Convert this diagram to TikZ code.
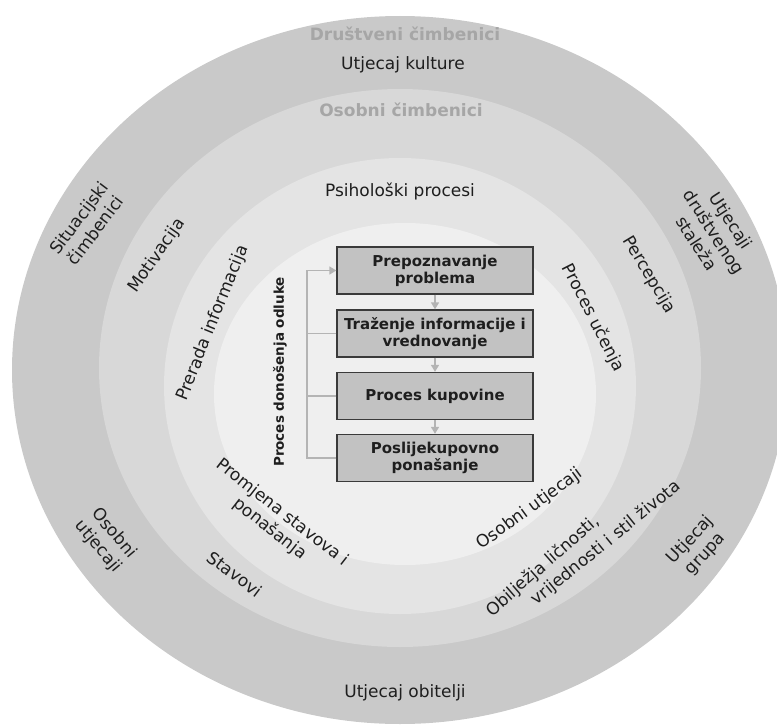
\documentclass[tikz,border=0pt]{standalone}
\usepackage{fontspec}
\setmainfont{DejaVu Sans}
\usetikzlibrary{arrows.meta}
\definecolor{ringA}{HTML}{C9C9C9}
\definecolor{ringB}{HTML}{D8D8D8}
\definecolor{ringC}{HTML}{E4E4E4}
\definecolor{ringD}{HTML}{EFEFEF}
\definecolor{boxfill}{HTML}{C2C2C2}
\definecolor{boxline}{HTML}{3A3A3A}
\definecolor{titlecol}{HTML}{A6A6A6}
\definecolor{labelcol}{HTML}{1E1E1E}
\definecolor{arrowcol}{HTML}{B4B4B4}
\begin{document}
\begin{tikzpicture}[x=1pt,y=-1pt,
  lbl/.style={font=\fontsize{17}{20.5}\selectfont, text=labelcol, align=center, inner sep=0pt},
  ttl/.style={font=\fontsize{17}{19}\selectfont\bfseries, text=titlecol, inner sep=0pt},
  stepbox/.style={draw=boxline, line width=1.3pt, fill=boxfill, minimum width=196pt, minimum height=47pt,
    align=center, inner sep=0pt, font=\fontsize{15}{17}\selectfont\bfseries, text=labelcol},
  garrow/.style={draw=arrowcol, line width=1.4pt, -{Triangle[length=7pt,width=8pt]}},
  gline/.style={draw=arrowcol, line width=1.4pt}]
\useasboundingbox (0,0) rectangle (777,725);
\begin{scope}
\clip (0,0) rectangle (777,725);
\fill[ringA] (400,370) ellipse [x radius=388, y radius=354];
\fill[ringB] (400,368) ellipse [x radius=301, y radius=279];
\fill[ringC] (400,386) ellipse [x radius=236, y radius=228];
\fill[ringD] (405,394) ellipse [x radius=191, y radius=171];
\end{scope}

% titles and ring labels
\node[ttl] (dc) at (405,34) {Društveni čimbenici};
\node[lbl] (uk) at (403,65) {Utjecaj kulture};
\node[ttl] (oc) at (401,110) {Osobni čimbenici};
\node[lbl] (pp) at (400,191) {Psihološki procesi};
\node[lbl, rotate=53] (sc) at (87,224) {Situacijski\\čimbenici};
\node[lbl, rotate=55] (mo) at (157,256) {Motivacija};
\node[lbl, rotate=68] (pi) at (213,323) {Prerada informacija};
\node[lbl, rotate=-63] (pu) at (593,318) {Proces učenja};
\node[lbl, rotate=-59] (pe) at (649,275) {Percepcija};
\node[lbl, rotate=-57] (ud) at (714,232) {Utjecaji\\društvenog\\staleža};
\node[lbl, rotate=-50] (ou) at (106,540) {Osobni\\utjecaji};
\node[lbl, rotate=-37] (st) at (235,574) {Stavovi};
\node[lbl, rotate=-38] (ps) at (276,521) {Promjena stavova i\\ponašanja};
\node[lbl, rotate=36] (ou2) at (530,509) {Osobni utjecaji};
\node[lbl, rotate=41] (ol1) at (543,566) {Obilježja ličnosti,};
\node[lbl, rotate=39] (ol2) at (606,543) {vrijednosti i stil života};
\node[lbl, rotate=47] (ug) at (698,547) {Utjecaj\\grupa};
\node[lbl] (uo) at (405,693) {Utjecaj obitelji};

% decision process
\node[stepbox] (b1) at (435,270.5) {Prepoznavanje\\problema};
\node[stepbox] (b2) at (435,333.5) {Traženje informacije i\\vrednovanje};
\node[stepbox] (b3) at (435,396) {Proces kupovine};
\node[stepbox] (b4) at (435,458) {Poslijekupovno\\ponašanje};
\node[font=\fontsize{13.5}{15}\selectfont\bfseries, text=labelcol, rotate=90, inner sep=0pt] (pdo) at (280,372) {Proces donošenja odluke};

\draw[garrow] (b1.south) -- (b2.north);
\draw[garrow] (b2.south) -- (b3.north);
\draw[garrow] (b3.south) -- (b4.north);
\coordinate (bl) at (307,0);
\draw[garrow] (b4.west) -- (b4.west -| bl) -- (b1.west -| bl) -- (b1.west);
\draw[gline] (b2.west) -- (b2.west -| bl);
\draw[gline] (b3.west) -- (b3.west -| bl);
\end{tikzpicture}
\end{document}
